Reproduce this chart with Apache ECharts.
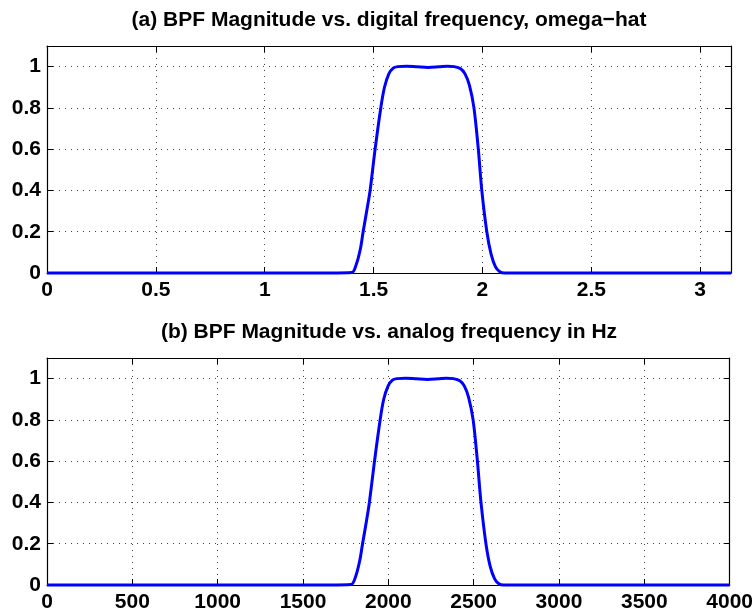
<!DOCTYPE html>
<html>
<head>
<meta charset="utf-8">
<script src="https://cdn.jsdelivr.net/npm/echarts@6/dist/echarts.min.js"></script>
<style>
html,body{margin:0;padding:0;background:#fff;}
#chart{width:756px;height:614px;}
</style>
</head>
<body>
<div id="chart"></div>
<script>
// digital frequency omega-hat (rad/sample)
var omegaHat = [0, 1.30, 1.40, 1.42, 1.44, 1.452, 1.47, 1.484, 1.507, 1.533, 1.55, 1.57, 1.59, 1.61, 1.65, 1.70, 1.75, 1.80, 1.84, 1.87, 1.90, 1.92, 1.94, 1.961, 1.981, 1.997, 2.02, 2.04, 2.06, 2.08, 2.10, 3.14159];
// analog frequency in Hz (fs = 8000 Hz)
var freqHz = [0, 1655, 1782, 1808, 1833, 1849, 1872, 1889, 1919, 1952, 1973, 1999, 2024, 2050, 2101, 2164, 2228, 2292, 2343, 2381, 2419, 2445, 2470, 2497, 2522, 2543, 2572, 2597, 2623, 2648, 2674, 4000];
// BPF magnitude
var magnitude = [0, 0, 0.002, 0.04, 0.12, 0.2, 0.31, 0.4, 0.6, 0.8, 0.9, 0.965, 0.993, 1.0, 1.002, 0.999, 0.996, 0.999, 1.002, 1.0, 0.99, 0.965, 0.91, 0.8, 0.6, 0.4, 0.2, 0.09, 0.03, 0.006, 0, 0];

var titleA = '(a) BPF Magnitude vs. digital frequency, omega\u2212hat';
var titleB = '(b) BPF Magnitude vs. analog frequency in Hz';
var yTicks = [0, 0.2, 0.4, 0.6, 0.8, 1];

var FONT = "'Liberation Sans', Arial, Helvetica, sans-serif";
var chart = echarts.init(document.getElementById('chart'), null, {renderer: 'canvas'});

function pairs(xs, ys) { return xs.map(function (x, i) { return [x, ys[i]]; }); }

var gridLine = {show: true, lineStyle: {color: '#444', width: 1, type: [1, 5]}};
var labelStyle = {color: '#000', fontFamily: FONT, fontWeight: 'bold', fontSize: 21};

function bottomX(gi, max, interval, showMax) {
  return {
    type: 'value', gridIndex: gi, min: 0, max: max, interval: interval, position: 'bottom',
    axisLine: {show: true, onZero: false, lineStyle: {color: '#000', width: 1.2}},
    axisTick: {show: true, inside: true, length: 6, lineStyle: {color: '#000'}},
    axisLabel: Object.assign({margin: 7, showMaxLabel: showMax, showMinLabel: true,
      formatter: function (v) { return String(v); }}, labelStyle),
    splitLine: gridLine
  };
}
function topX(gi, max, interval) {
  return {
    type: 'value', gridIndex: gi, min: 0, max: max, interval: interval, position: 'top',
    axisLine: {show: true, onZero: false, lineStyle: {color: '#000', width: 1.2}},
    axisTick: {show: true, inside: true, length: 6, lineStyle: {color: '#000'}},
    axisLabel: {show: false}, splitLine: {show: false}
  };
}
function leftY(gi) {
  return {
    type: 'value', gridIndex: gi, min: 0, max: 1.1, interval: 0.2, position: 'left',
    axisLine: {show: true, onZero: false, lineStyle: {color: '#000', width: 1.2}},
    axisTick: {show: true, inside: true, length: 6, lineStyle: {color: '#000'}},
    axisLabel: Object.assign({margin: 6, showMaxLabel: false, formatter: function (v) {
      var t = yTicks.filter(function (y) { return Math.abs(y - v) < 1e-6; });
      return t.length ? String(t[0]) : '';
    }}, labelStyle),
    splitLine: gridLine
  };
}
function rightY(gi) {
  return {
    type: 'value', gridIndex: gi, min: 0, max: 1.1, interval: 0.2, position: 'right',
    axisLine: {show: true, onZero: false, lineStyle: {color: '#000', width: 1.2}},
    axisTick: {show: true, inside: true, length: 6, lineStyle: {color: '#000'}},
    axisLabel: {show: false}, splitLine: {show: false}
  };
}

var option = {
  backgroundColor: '#fff',
  animation: false,
  title: [
    {text: titleA, left: 389, top: 10, textAlign: 'center', padding: 0,
     textStyle: {fontFamily: FONT, fontWeight: 'bold', fontSize: 21, color: '#000'}},
    {text: titleB, left: 389, top: 322, textAlign: 'center', padding: 0,
     textStyle: {fontFamily: FONT, fontWeight: 'bold', fontSize: 21, color: '#000'}}
  ],
  grid: [
    {left: 47, width: 684, top: 46, height: 227},
    {left: 47, width: 684, top: 358, height: 227}
  ],
  xAxis: [
    bottomX(0, Math.PI, 0.5, false),
    topX(0, Math.PI, 0.5),
    bottomX(1, 4000, 500, true),
    topX(1, 4000, 500)
  ],
  yAxis: [leftY(0), rightY(0), leftY(1), rightY(1)],
  series: [
    {type: 'line', xAxisIndex: 0, yAxisIndex: 0, data: pairs(omegaHat, magnitude),
     showSymbol: false, smooth: 0.3, clip: false, z: 5,
     lineStyle: {color: '#0000ff', width: 3}},
    {type: 'line', xAxisIndex: 2, yAxisIndex: 2, data: pairs(freqHz, magnitude),
     showSymbol: false, smooth: 0.3, clip: false, z: 5,
     lineStyle: {color: '#0000ff', width: 3}}
  ]
};
chart.setOption(option);
</script>
</body>
</html>
